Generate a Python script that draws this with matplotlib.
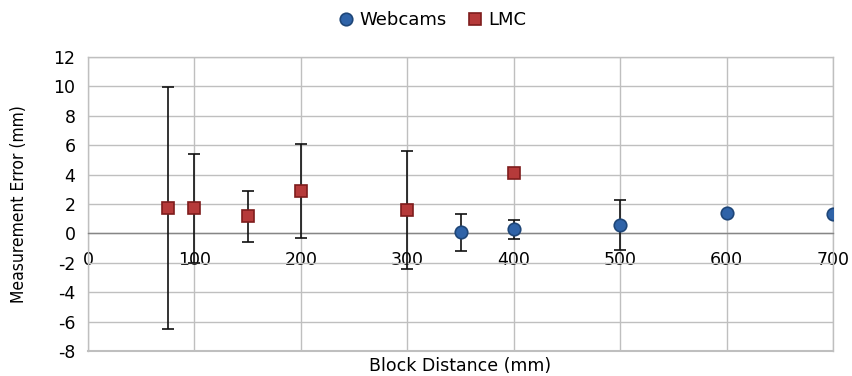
import matplotlib
matplotlib.use("Agg")
import matplotlib.pyplot as plt

plt.rcParams["axes.unicode_minus"] = False

# Data
web_x = [350, 400, 500, 600, 700]
web_y = [0.07, 0.28, 0.57, 1.38, 1.33]
web_err = [1.25, 0.63, 1.7, 0.0, 0.0]

lmc_x = [75, 100, 150, 200, 300, 400]
lmc_y = [1.71, 1.71, 1.16, 2.88, 1.59, 4.1]
lmc_err = [8.22, 3.72, 1.75, 3.2, 4.0, 0.0]

x_ticks = [0, 100, 200, 300, 400, 500, 600, 700]
y_ticks = [-8, -6, -4, -2, 0, 2, 4, 6, 8, 10, 12]

fig = plt.figure(figsize=(8.53, 3.76), dpi=100)
ax = fig.add_axes([0.1032, 0.0665, 0.8734, 0.7819])

grid_c = "#BFBFBF"
ax.set_xlim(0, 700)
ax.set_ylim(-8, 12)
ax.set_xticks(x_ticks)
ax.set_yticks(y_ticks)
ax.grid(True, color=grid_c, linewidth=1.0, zorder=0)
ax.set_axisbelow(True)

for s in ["top", "right", "left"]:
    ax.spines[s].set_color(grid_c)
    ax.spines[s].set_linewidth(1.0)
ax.spines["bottom"].set_position(("data", 0))
ax.spines["bottom"].set_color("#868686")
ax.spines["bottom"].set_linewidth(1.0)
ax.axhline(-8, color=grid_c, linewidth=1.5, clip_on=False, zorder=1)

ax.tick_params(axis="both", length=0, labelsize=12.5, colors="#000000")
ax.tick_params(axis="x", pad=13)
ax.tick_params(axis="y", pad=9)

ax.errorbar(web_x, web_y, yerr=web_err, fmt="none", ecolor="#111111",
            elinewidth=1.2, capsize=4, capthick=1.2, zorder=3)
ax.errorbar(lmc_x, lmc_y, yerr=lmc_err, fmt="none", ecolor="#111111",
            elinewidth=1.2, capsize=4, capthick=1.2, zorder=3)

ax.plot(web_x, web_y, linestyle="none", marker="o", markersize=9,
        markerfacecolor="#2F63A8", markeredgecolor="#1E4678", markeredgewidth=1.2,
        label="Webcams", zorder=4)
ax.plot(lmc_x, lmc_y, linestyle="none", marker="s", markersize=9,
        markerfacecolor="#B63A3A", markeredgecolor="#7E1C1C", markeredgewidth=1.2,
        label="LMC", zorder=4)

ax.set_xlabel("Block Distance (mm)", fontsize=12.5)
ax.xaxis.set_label_coords(0.5, -0.02)
ax.set_ylabel("Measurement Error (mm)", fontsize=12.5, family="DejaVu Sans",
              fontstretch="condensed")
ax.yaxis.set_label_coords(-0.08, 0.5)

leg = fig.legend(loc="center", bbox_to_anchor=(0.505, 0.947), ncol=2,
                 frameon=False, fontsize=13, handletextpad=0.1,
                 columnspacing=1.0, markerscale=1.0, handlelength=1.2)

fig.savefig("out.png", dpi=100)
